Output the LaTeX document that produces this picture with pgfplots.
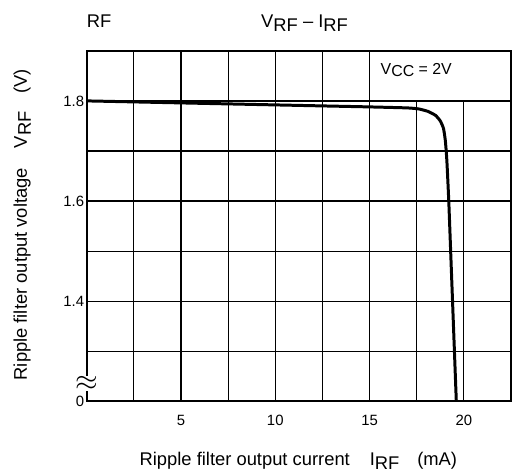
\documentclass[border=0pt]{standalone}
\usepackage{pgfplots}
\pgfplotsset{compat=1.18}
\usepackage{fontspec}
\setmainfont{Liberation Sans}
\begin{document}
\begin{tikzpicture}
\begin{axis}[
  scale only axis, width=426bp, height=352bp,
  xmin=0, xmax=22.5, ymin=1.2, ymax=1.9,
  axis line style={line width=2bp},
  xtick={5,10,15,20}, ytick={1.2,1.4,1.6,1.8},
  yticklabels={0,1.4,1.6,1.8},
  major tick length=0pt,
  /pgf/number format/assume math mode=true,
  tick label style={font=\fontsize{15}{17}\selectfont},
  xticklabel style={yshift=-10bp},
  yticklabel style={xshift=1bp},
  clip=true,
]
\pgfplotsinvokeforeach{2.5,5,7.5,10,12.5,15}{
  \draw[line width=1.2bp] (axis cs:#1,1.2) -- (axis cs:#1,1.9);
}
\pgfplotsinvokeforeach{17.5,20}{
  \draw[line width=1.2bp] (axis cs:#1,1.2) -- (axis cs:#1,1.8);
}
\pgfplotsinvokeforeach{1.3,1.4,1.5,1.6,1.7}{
  \draw[line width=1.2bp] (axis cs:0,#1) -- (axis cs:22.5,#1);
}
\draw[line width=1.8bp] (axis cs:0,1.8) -- (axis cs:22.5,1.8);
\addplot[black, line width=3bp, smooth, tension=0.3] coordinates {
 (0,1.800) (2.5,1.798) (5,1.796) (7.5,1.794) (10,1.792) (12.5,1.790)
 (15,1.788) (17,1.786) (17.6,1.784) (18.1,1.779) (18.5,1.771) (18.75,1.760)
 (18.92,1.745) (19.02,1.72) (19.1,1.68) (19.2,1.60) (19.3,1.50)
 (19.4,1.40) (19.5,1.30) (19.6,1.20)
};
\end{axis}
\coordinate (O) at (current axis.south west);
\path[use as bounding box] ([shift={(-87bp,-72bp)}]O) rectangle ([shift={(425bp,403bp)}]O);
\begin{scope}[font=\fontsize{18.5}{20}\selectfont]
\node[anchor=base west, inner sep=0pt] at ([shift={(0bp,375bp)}]O) {RF};
\node[anchor=base west, inner sep=0pt] at ([shift={(175bp,375bp)}]O) {V\raisebox{-4bp}{RF} -- I\raisebox{-4bp}{RF}};
\node[anchor=base west, inner sep=0pt, font=\fontsize{16}{18}\selectfont] at ([shift={(295bp,328bp)}]O) {V\raisebox{-2bp}{CC} = 2V};
\node[fill=white, inner sep=0pt] at ([shift={(0bp,18bp)}]O) {\scalebox{1.7}{$\approx$}};
\node[anchor=base west, inner sep=0pt] at ([shift={(53bp,-64bp)}]O) {Ripple filter output current\hspace{20bp}I\raisebox{-4bp}{RF}\hspace{18bp}(mA)};
\node[rotate=90, anchor=base west, inner sep=0pt] at ([shift={(-60bp,21bp)}]O) {Ripple filter output voltage\hspace{20bp}V\raisebox{-4bp}{RF}\hspace{18bp}(V)};
\end{scope}
\end{tikzpicture}
\end{document}
